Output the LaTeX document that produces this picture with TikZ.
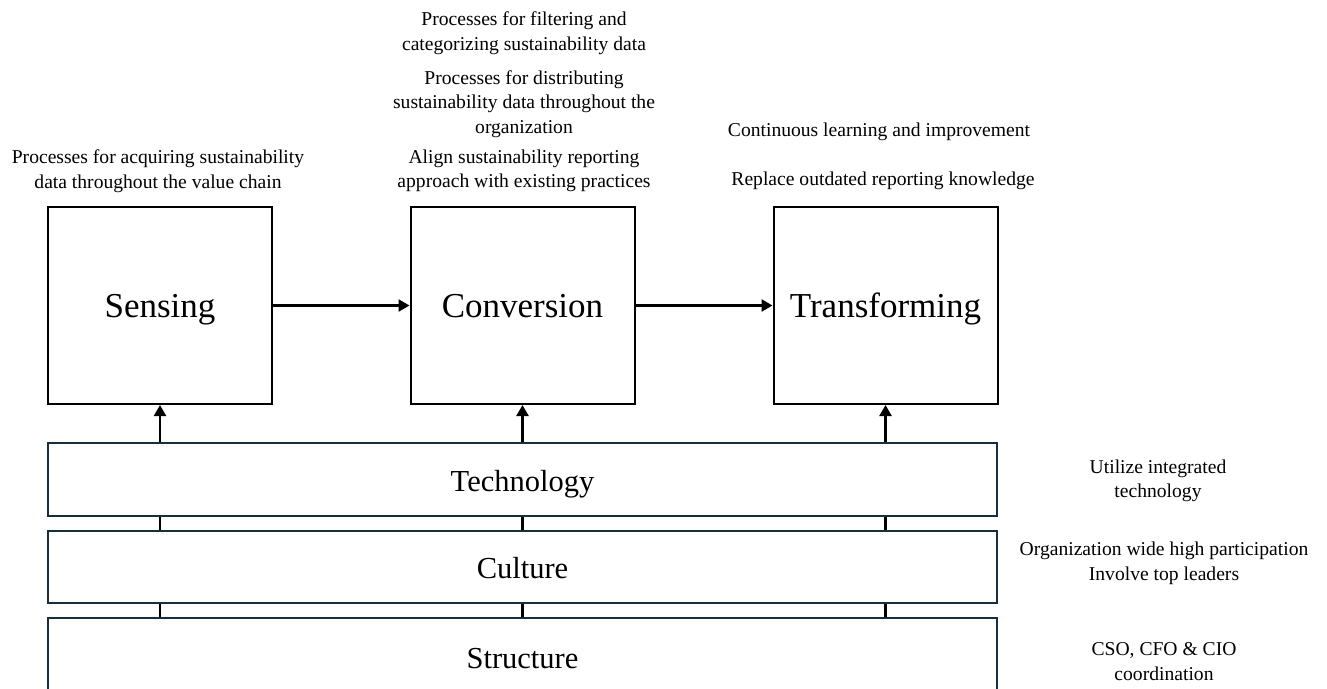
\documentclass[tikz,border=0pt]{standalone}
\usepackage{fontspec}
\setmainfont{Liberation Serif}
\usetikzlibrary{arrows.meta}
\definecolor{layerline}{RGB}{22,46,62}
\tikzset{
  stage/.style={draw=black, line width=2pt, minimum width=224pt, minimum height=197pt,
    inner sep=0pt, text height=23pt, text depth=0pt, font=\fontsize{35}{40}\selectfont},
  layer/.style={draw=layerline, line width=1.9pt, minimum width=949pt,
    inner sep=0pt, text height=23pt, text depth=0pt, font=\fontsize{30.5}{36}\selectfont},
  note/.style={align=center, inner sep=0pt, font=\fontsize{19.6}{24.5}\selectfont},
  flow/.style={line width=2.3pt, -{Triangle[length=11pt,width=12pt]}},
  tie/.style={line width=2.3pt}
}
\begin{document}
\begin{tikzpicture}[x=1pt,y=-1pt]
\useasboundingbox (0,0) rectangle (1327,688);
\clip (0,0) rectangle (1327,688);

% process stages
\node[stage] (sens) at (160,305.5) {Sensing};
\node[stage] (conv) at (522.5,305.5) {Conversion};
\node[stage] (trans) at (885.5,305.5) {Transforming};

% supporting layers
\node[layer, minimum height=73pt] (tech) at (522.5,479.5) {Technology};
\node[layer, minimum height=72pt] (cult) at (522.5,567) {Culture};
\node[layer, minimum height=77pt] (struc) at (522.5,656.5) {Structure};

% flow between stages
\draw[flow] (sens.east) -- (conv.west);
\draw[flow] (conv.east) -- (trans.west);

% layers feeding the stages
\foreach \s in {sens,conv,trans}{
  \draw[flow] (\s.south |- tech.north) -- (\s.south);
  \draw[tie] (\s.south |- cult.north) -- (\s.south |- tech.south);
  \draw[tie] (\s.south |- struc.north) -- (\s.south |- cult.south);
}

% stage descriptions
\node[note] (nsens) at (158,171) {Processes for acquiring sustainability\\data throughout the value chain};
\node[note] (nconv1) at (524,33) {Processes for filtering and\\categorizing sustainability data};
\node[note] (nconv2) at (524,104) {Processes for distributing\\sustainability data throughout the\\organization};
\node[note] (nconv3) at (524,171) {Align sustainability reporting\\approach with existing practices};
\node[note] (ntrans1) at (879,132) {Continuous learning and improvement};
\node[note] (ntrans2) at (883,181) {Replace outdated reporting knowledge};

% layer descriptions
\node[note] (ntech) at (1158,481) {Utilize integrated\\technology};
\node[note] (ncult) at (1164,563.5) {Organization wide high participation\\Involve top leaders};
\node[note] (nstruc) at (1164,661.5) {CSO, CFO \& CIO\\coordination};
\end{tikzpicture}
\end{document}
